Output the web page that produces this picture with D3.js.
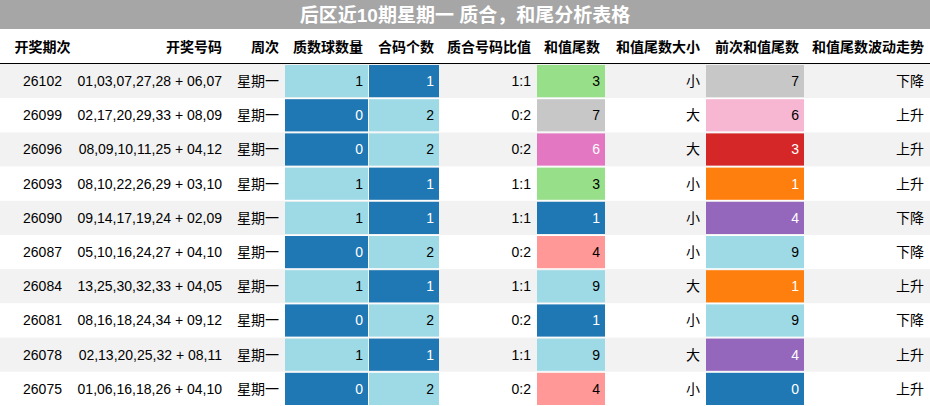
<!DOCTYPE html>
<html lang="zh">
<head>
<meta charset="utf-8">
<title>后区近10期星期一 质合，和尾分析表格</title>
<script src="https://d3js.org/d3.v7.min.js"></script>
<style>
  body { margin: 0; background: #fff; font-family: "Liberation Sans", "Noto Sans CJK SC", sans-serif; }
</style>
</head>
<body>
<div id="chart"></div>
<script>
var w = 930, h = 406;

var title = "后区近10期星期一 质合，和尾分析表格";
var headers = ["开奖期次", "开奖号码", "周次", "质数球数量", "合码个数", "质合号码比值", "和值尾数", "和值尾数大小", "前次和值尾数", "和值尾数波动走势"];
var issues = ["26102", "26099", "26096", "26093", "26090", "26087", "26084", "26081", "26078", "26075"];
var numbers = ["01,03,07,27,28 + 06,07", "02,17,20,29,33 + 08,09", "08,09,10,11,25 + 04,12", "08,10,22,26,29 + 03,10",
  "09,14,17,19,24 + 02,09", "05,10,16,24,27 + 04,10", "13,25,30,32,33 + 04,05", "08,16,18,24,34 + 09,12",
  "02,13,20,25,32 + 08,11", "01,06,16,18,26 + 04,10"];
var weekday = "星期一";
var primeCount = [1, 0, 0, 1, 1, 0, 1, 0, 1, 0];
var compositeCount = [1, 2, 2, 1, 1, 2, 1, 2, 1, 2];
var ratio = ["1:1", "0:2", "0:2", "1:1", "1:1", "0:2", "1:1", "0:2", "1:1", "0:2"];
var tail = [3, 7, 6, 3, 1, 4, 9, 1, 9, 4];
var tailSize = ["小", "大", "大", "小", "小", "小", "大", "小", "大", "小"];
var prevTail = [7, 6, 3, 1, 4, 9, 1, 9, 4, 0];
var trend = ["下降", "上升", "上升", "上升", "下降", "下降", "上升", "下降", "上升", "上升"];

var colEdges = [0, 85, 228, 285, 369, 440, 537, 606, 706, 805, 930];
var titleH = 29, headH = 35;
var rowH = (h - titleH - headH) / issues.length;

var countColor = {0: "#1f77b4", 1: "#9edae5", 2: "#9edae5"};
var compColor = {1: "#1f77b4", 2: "#9edae5"};
var tailColor = {1: "#1f77b4", 3: "#98df8a", 4: "#ff9896", 6: "#e377c2", 7: "#c7c7c7", 9: "#9edae5"};
var prevColor = {0: "#1f77b4", 1: "#ff7f0e", 3: "#d62728", 4: "#9467bd", 6: "#f7b6d2", 7: "#c7c7c7", 9: "#9edae5"};
var darkFills = ["#1f77b4", "#d62728", "#ff7f0e", "#9467bd", "#e377c2"];

var svg = d3.select("#chart").append("svg").attr("width", w).attr("height", h);

// title bar
svg.append("rect").attr("width", w).attr("height", titleH).attr("fill", "#a6a6a6");
svg.append("text").attr("x", w / 2).attr("y", titleH / 2 + 7).attr("text-anchor", "middle")
  .attr("fill", "#fff").attr("font-size", "19px").attr("font-weight", "bold").text(title);

// header
var headAnchor = ["middle", "end", "end", "end", "end", "end", "end", "end", "end", "end"];
headers.forEach(function(t, i) {
  var x = headAnchor[i] == "middle" ? (colEdges[i] + colEdges[i + 1]) / 2 : colEdges[i + 1] - 6;
  svg.append("text").attr("x", x).attr("y", titleH + headH / 2 + 5).attr("text-anchor", headAnchor[i])
    .attr("font-size", "14px").attr("font-weight", "bold").attr("fill", "#000").text(t);
});
svg.append("line").attr("x1", 0).attr("x2", w).attr("y1", titleH + headH - 0.5).attr("y2", titleH + headH - 0.5)
  .attr("stroke", "#000").attr("stroke-width", 1);

var y = d3.scaleBand().domain(d3.range(issues.length)).range([titleH + headH, h]);

var rows = svg.selectAll("g.row").data(d3.range(issues.length)).enter().append("g").attr("class", "row")
  .attr("transform", function(i) { return "translate(0," + y(i) + ")"; });

rows.append("rect").attr("width", w).attr("height", y.bandwidth())
  .attr("fill", function(i) { return i % 2 == 0 ? "#f2f2f2" : "#fff"; });

function cell(g, col, text, fill) {
  var x0 = colEdges[col], x1 = colEdges[col + 1];
  if (fill) g.append("rect").attr("x", x0).attr("y", 1).attr("width", x1 - x0 - 1).attr("height", y.bandwidth() - 2).attr("fill", fill);
  var anchor = col == 0 ? "middle" : "end";
  g.append("text").attr("x", col == 0 ? (x0 + x1) / 2 : x1 - 6).attr("y", y.bandwidth() / 2 + 5)
    .attr("text-anchor", anchor).attr("font-size", "14px")
    .attr("fill", fill && darkFills.indexOf(fill) >= 0 ? "#fff" : "#000").text(text);
}

rows.each(function(i) {
  var g = d3.select(this);
  cell(g, 0, issues[i]);
  cell(g, 1, numbers[i]);
  cell(g, 2, weekday);
  cell(g, 3, primeCount[i], countColor[primeCount[i]]);
  cell(g, 4, compositeCount[i], compColor[compositeCount[i]]);
  cell(g, 5, ratio[i]);
  cell(g, 6, tail[i], tailColor[tail[i]]);
  cell(g, 7, tailSize[i]);
  cell(g, 8, prevTail[i], prevColor[prevTail[i]]);
  cell(g, 9, trend[i]);
});
</script>
</body>
</html>
